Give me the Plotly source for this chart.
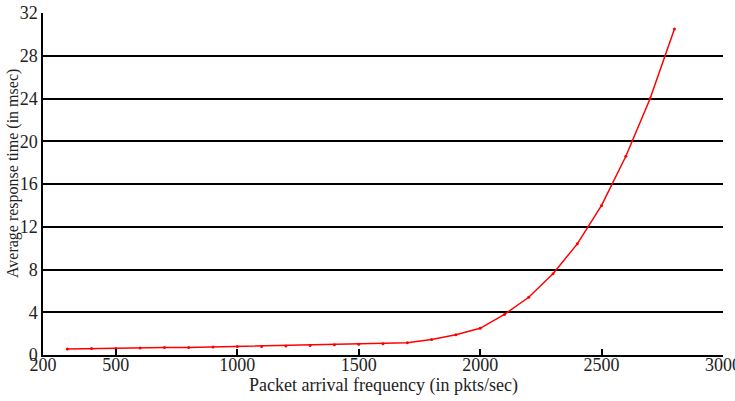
import plotly.graph_objects as go

freq = [300, 400, 500, 600, 700, 800, 900, 1000, 1100, 1200, 1300, 1400, 1500,
        1600, 1700, 1800, 1900, 2000, 2100, 2200, 2300, 2400, 2500, 2600, 2700, 2800]
resp = [0.55, 0.6, 0.6, 0.65, 0.7, 0.7, 0.75, 0.8, 0.8, 0.85, 0.9, 0.95, 1.0,
        1.05, 1.15, 1.45, 1.9, 2.5, 3.8, 5.4, 7.6, 10.4, 14.0, 18.6, 24.0, 30.5]
x_ticks = [200, 500, 1000, 1500, 2000, 2500, 3000]
y_ticks = [0, 4, 8, 12, 16, 20, 24, 28, 32]
x_title = "Packet arrival frequency (in pkts/sec)"
y_title = "Average response time (in msec)"

fig = go.Figure(go.Scatter(
    x=freq, y=resp, mode="lines+markers",
    line=dict(color="#ff0000", width=1.5),
    marker=dict(color="#ff0000", size=3),
))

fam = "Liberation Serif, Times New Roman, serif"
font = dict(family=fam, size=18, color="#222")
fig.update_layout(
    width=735, height=401,
    margin=dict(l=43, r=12, t=13, b=46),
    paper_bgcolor="white", plot_bgcolor="white",
    showlegend=False,
    font=font,
    xaxis=dict(
        range=[200, 3000], tickvals=x_ticks, ticktext=[str(v) for v in x_ticks],
        ticks="inside", ticklen=6, tickcolor="black", tickwidth=1.5,
        showline=True, linecolor="black", linewidth=1.5,
        showgrid=False, zeroline=False, automargin=False,
        ticklabeloverflow="allow", ticklabelstandoff=-7,
        tickfont=font,
    ),
    yaxis=dict(
        range=[0, 32], tickvals=y_ticks,
        ticks="inside", ticklen=5, tickcolor="black", tickwidth=1.5,
        showline=True, linecolor="black", linewidth=1.5,
        showgrid=True, gridcolor="black", gridwidth=1.5, zeroline=False,
        automargin=False, ticklabeloverflow="allow", ticklabelstandoff=0,
        tickfont=font,
    ),
    annotations=[
        dict(text=x_title, xref="paper", yref="paper", x=0.5, y=0,
             xanchor="center", yanchor="middle", yshift=-30, showarrow=False,
             font=dict(family=fam, size=18, color="#222")),
        dict(text=y_title, xref="paper", yref="paper", x=0, y=0.529,
             xanchor="center", yanchor="middle", xshift=-30, textangle=-90,
             showarrow=False, font=dict(family=fam, size=16, color="#222")),
    ],
)

fig.write_html("out.html")
